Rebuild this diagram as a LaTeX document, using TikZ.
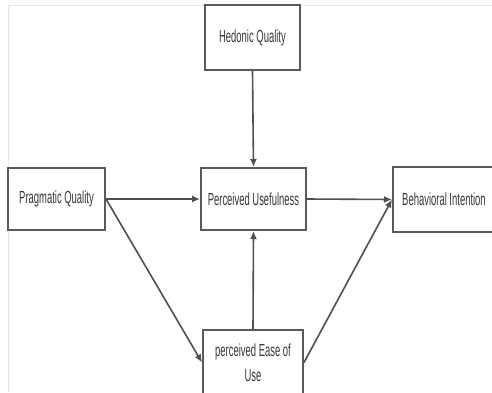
\documentclass[tikz,border=0pt]{standalone}
\usepackage{fontspec}
\newfontfamily\labfont[FakeStretch=0.54]{Liberation Sans}
\usetikzlibrary{arrows.meta}
\definecolor{boxline}{RGB}{90,90,90}
\definecolor{conline}{RGB}{80,80,80}
\definecolor{txt}{RGB}{55,55,55}
\definecolor{frame}{RGB}{232,232,232}
\tikzset{
  box/.style={draw=boxline, line width=2pt, fill=white, align=center,
    text=txt, font=\labfont\fontsize{17.5}{25}\selectfont, inner sep=2pt},
  conn/.style={draw=conline, line width=1.6pt,
    -{Latex[length=8pt,width=7pt]}},
  plain/.style={draw=conline, line width=1.6pt}
}
\begin{document}
\begin{tikzpicture}[x=1pt,y=-1pt]
\useasboundingbox (0,0) rectangle (492,392);
\clip (0,0) rectangle (492,392);
\fill[white] (0,0) rectangle (492,392);
\draw[frame, line width=1pt] (8,392) -- (8,5) -- (492,5);
\node[box, minimum width=95pt, minimum height=65pt] (hq) at (252.5,37.5) {Hedonic Quality};
\node[box, minimum width=97pt, minimum height=62pt] (pq) at (56.5,199) {Pragmatic Quality};
\node[box, minimum width=105pt, minimum height=62pt] (pu) at (253.5,199) {Perceived Usefulness};
\node[box, minimum width=102pt, minimum height=65pt] (bi) at (444,199.5) {Behavioral Intention};
\node[box, minimum width=100pt, minimum height=65pt] (eu) at (253,362.5) {perceived Ease of\\Use};
\draw[conn] (hq.south) -- (pu.north);
\draw[conn] (pq.east) -- (pu.west);
\draw[conn] (pu.east) -- (bi.west);
\draw[conn] (eu.north) -- (pu.south);
\draw[conn] (pq.east) -- (eu.west);
\draw[conn] (eu.east) -- (bi.west);
\end{tikzpicture}
\end{document}
